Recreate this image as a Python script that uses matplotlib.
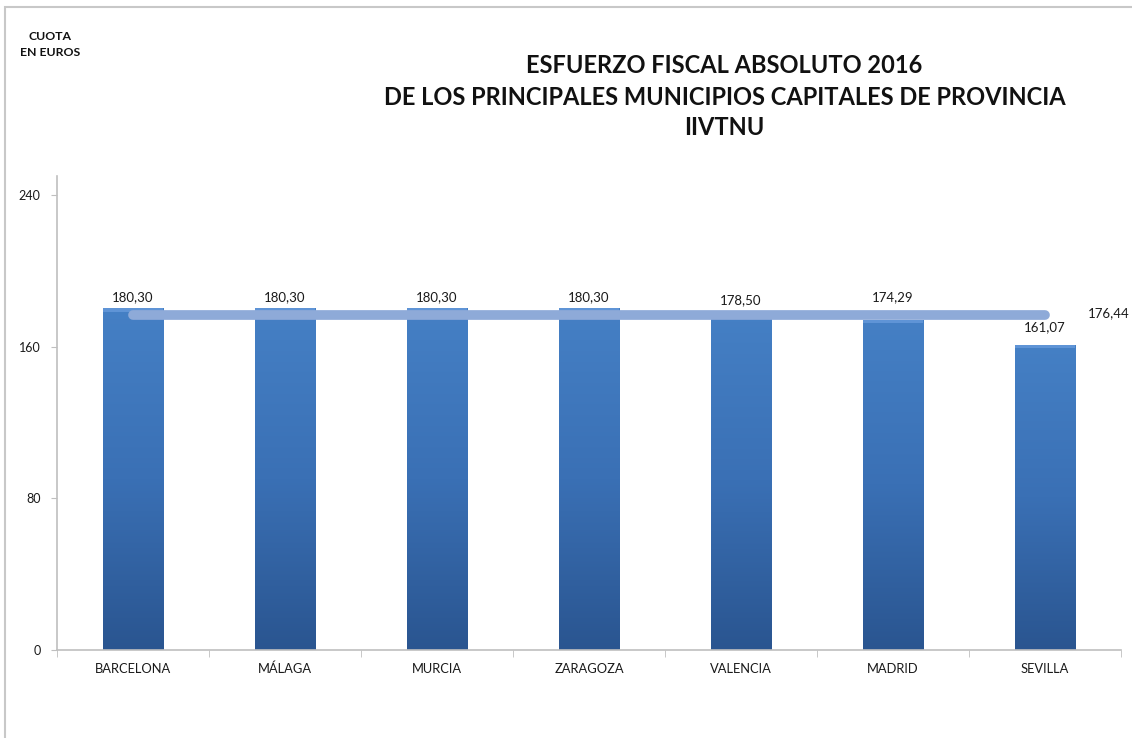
import matplotlib

matplotlib.use("Agg")
import matplotlib.pyplot as plt
import numpy as np
from matplotlib.patches import Rectangle
from matplotlib.colors import LinearSegmentedColormap

plt.rcParams["font.family"] = ["Lato", "DejaVu Sans"]

cities = ["BARCELONA", "MÁLAGA", "MURCIA", "ZARAGOZA", "VALENCIA", "MADRID", "SEVILLA"]
values = [180.30, 180.30, 180.30, 180.30, 178.50, 174.29, 161.07]
average = 176.44
yticks = [0, 80, 160, 240]

fig = plt.figure(figsize=(11.32, 7.38), dpi=100)
ax = fig.add_axes([0.0504, 0.1192, 0.9399, 0.6423])

# outer frame of the chart area
fig.patches.append(Rectangle((5 / 1132, -0.1), 1.2, (738 - 7) / 738 + 0.1,
                             transform=fig.transFigure, fill=False,
                             edgecolor="#c8c8c8", lw=1.5))

x = np.arange(len(cities))
width = 0.4
cmap = LinearSegmentedColormap.from_list("bar", ["#2a5590", "#3a70b5", "#4580c5"])
grad = np.linspace(0, 1, 256).reshape(-1, 1)

bars = ax.bar(x, values, width=width, color="none", edgecolor="none", zorder=2)
for b in bars:
    x0, w, h = b.get_x(), b.get_width(), b.get_height()
    im = ax.imshow(grad, cmap=cmap, aspect="auto", origin="lower",
                   extent=[x0, x0 + w, 0, h], zorder=2)
    im.set_clip_path(b)
    # light bevel on top
    ax.add_patch(Rectangle((x0, h - 1.8), w, 1.8, color="#5f94d6", lw=0, zorder=3))

# labels were nudged by hand in the original (pixels above bar top)
label_lift = [11, 11, 11, 11, 11.5, 22, 17]
for xi, v, lift in zip(x, values, label_lift):
    ax.annotate(f"{v:.2f}".replace(".", ","), (xi, v), xytext=(0, lift * 0.72),
                textcoords="offset points", ha="center", va="center",
                fontsize=9.5, color="#1a1a1a", zorder=5)

ax.plot([x[0], x[-1]], [average, average], color="#8eaad8", lw=7,
        solid_capstyle="round", zorder=4)
ax.text(x[-1] + 0.28, average + 1, f"{average:.2f}".replace(".", ","),
        ha="left", va="center", fontsize=9.5, color="#1a1a1a", clip_on=False)

ax.set_xlim(-0.5, len(cities) - 0.5)
ax.set_ylim(0, 250)
ax.set_yticks(yticks)
ax.set_yticklabels([str(t) for t in yticks], fontsize=9, color="#1a1a1a")
ax.set_xticks(x)
ax.set_xticklabels(cities, fontsize=9.3, color="#1a1a1a")
ax.tick_params(axis="x", length=0, pad=9)
ax.tick_params(axis="y", length=4, color="#bfbfbf", pad=8)
ax.set_xticks(np.arange(-0.5, len(cities), 1.0), minor=True)
ax.tick_params(axis="x", which="minor", length=5, color="#bfbfbf", direction="out")
for s in ["top", "right"]:
    ax.spines[s].set_visible(False)
for s in ["left", "bottom"]:
    ax.spines[s].set_color("#bfbfbf")
    ax.spines[s].set_linewidth(1.2)

fig.text(0.64, 0.911, "ESFUERZO FISCAL ABSOLUTO 2016", ha="center", va="center",
         fontsize=17, fontweight="bold", color="#111111")
fig.text(0.64, 0.868, "DE LOS PRINCIPALES MUNICIPIOS CAPITALES DE PROVINCIA",
         ha="center", va="center", fontsize=17, fontweight="bold", color="#111111")
fig.text(0.64, 0.827, "IIVTNU", ha="center", va="center",
         fontsize=17, fontweight="bold", color="#111111")
fig.text(0.044, 0.94, "CUOTA\nEN EUROS", ha="center", va="center",
         fontsize=8.8, fontweight="bold", color="#111111", linespacing=1.5)

fig.savefig("out.png", dpi=100)
